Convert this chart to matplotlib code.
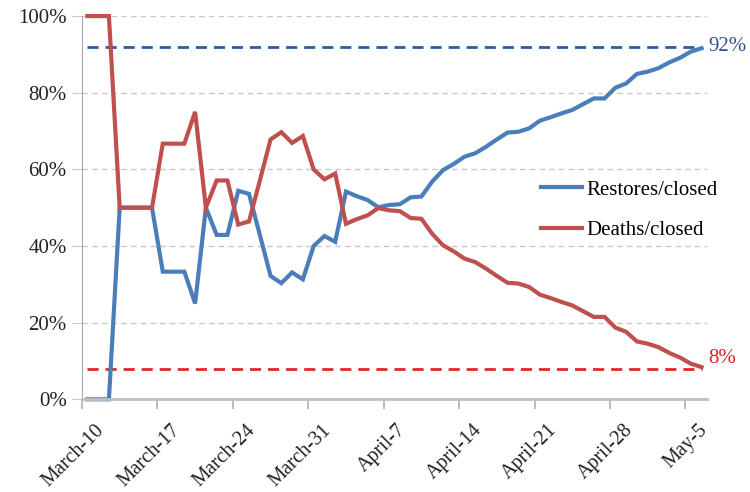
import numpy as np
import matplotlib.pyplot as plt
from matplotlib.transforms import ScaledTranslation

plt.rcParams['font.family'] = ['Liberation Serif', 'DejaVu Serif']

# daily share of closed cases, March-10 .. May-6 (percent)
restores = [0, 0, 0, 50, 50, 50, 50, 33.3, 33.3, 33.3, 25, 50, 42.9, 42.9,
            54.4, 53.6, 43, 32.2, 30.3, 33.1, 31.3, 40, 42.6, 41.1, 54.2, 53,
            52, 50.1, 50.7, 50.9, 52.7, 52.9, 56.8, 59.8, 61.4, 63.3, 64.2,
            65.9, 67.8, 69.6, 69.8, 70.7, 72.7, 73.6, 74.6, 75.5, 77, 78.5,
            78.5, 81.3, 82.4, 84.9, 85.5, 86.4, 87.9, 89.1, 90.7, 91.6]
deaths = [100, 100, 100, 50, 50, 50, 50, 66.7, 66.7, 66.7, 75, 50, 57.1, 57.1,
          45.6, 46.4, 57, 67.8, 69.7, 66.9, 68.7, 60, 57.4, 58.9, 45.8, 47,
          48, 49.9, 49.3, 49.1, 47.3, 47.1, 43.2, 40.2, 38.6, 36.7, 35.8,
          34.1, 32.2, 30.4, 30.2, 29.3, 27.3, 26.4, 25.4, 24.5, 23, 21.5,
          21.5, 18.7, 17.6, 15.1, 14.5, 13.6, 12.1, 10.9, 9.3, 8.4]
tick_labels = ['March-10', 'March-17', 'March-24', 'March-31', 'April-7',
               'April-14', 'April-21', 'April-28', 'May-5']
restores_level = 92
deaths_level = 8

blue = '#4a7ebb'
red = '#c0504d'

days = np.arange(len(restores)) + 0.5

fig = plt.figure(figsize=(7.5, 4.92), dpi=100)
ax = fig.add_axes([0.1093, 0.1884, 0.8333, 0.779])

ax.yaxis.grid(True, color='#c8c8c8', linestyle=(0, (4, 3)), lw=1)
ax.set_axisbelow(True)

ax.hlines(restores_level, days[0], days[-1], color='#2f5c9e', lw=2,
          linestyle=(0, (4, 2.5)))
ax.hlines(deaths_level, days[0], days[-1], color='#e0282a', lw=2,
          linestyle=(0, (4, 2.5)))

ax.plot(days, restores, color=blue, lw=3, label='Restores/closed',
        clip_on=False, solid_joinstyle='miter')
ax.plot(days, deaths, color=red, lw=3, label='Deaths/closed',
        clip_on=False, solid_joinstyle='miter')

ax.annotate(f'{restores_level}%', (days[-1], restores_level),
            xytext=(5, 0), textcoords='offset points', va='center',
            color='#2f5597', fontsize=15)
ax.annotate(f'{deaths_level}%', (days[-1], deaths_level),
            xytext=(5, 7), textcoords='offset points', va='center',
            color='#e02020', fontsize=15)

ax.set_xlim(0, len(restores))
ax.set_ylim(0, 100)
ax.set_yticks(np.arange(0, 101, 20))
ax.set_yticklabels([f'{v}%' for v in range(0, 101, 20)], fontsize=15,
                   color='#222222')

for s in ['top', 'right']:
    ax.spines[s].set_visible(False)
ax.spines['left'].set_color('#a6a6a6')
ax.spines['bottom'].set_color('#c0c0c0')
ax.spines['bottom'].set_linewidth(2)
ax.tick_params(axis='x', length=7, color='#b0b0b0', width=1.2, pad=4)
ax.tick_params(axis='y', length=7, color='#c8c8c8', pad=4)

# x labels last, so tick_params does not reset the shift
ax.set_xticks(np.arange(len(tick_labels)) * 7)
ax.set_xticklabels(tick_labels, rotation=45, ha='right',
                   rotation_mode='anchor', fontsize=14.5, color='#222222')
shift = ScaledTranslation(0.13, -0.06, fig.dpi_scale_trans)
for lab in ax.get_xticklabels():
    lab.set_transform(lab.get_transform() + shift)

ax.legend(loc='center left', bbox_to_anchor=(0.734, 0.494), frameon=False,
          fontsize=15, handlelength=2.0, handletextpad=0.2, labelspacing=1.0,
          borderpad=0, borderaxespad=0)

fig.savefig('out.png', dpi=100)
